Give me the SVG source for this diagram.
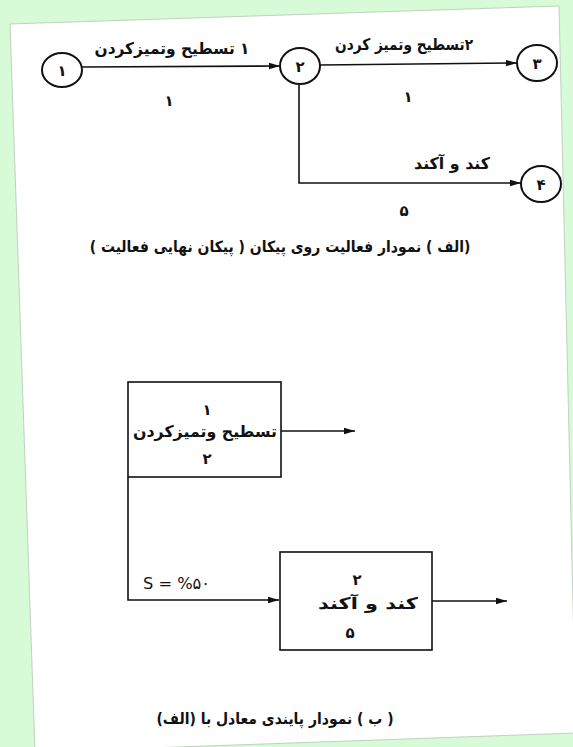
<svg xmlns="http://www.w3.org/2000/svg" width="573" height="747" viewBox="0 0 573 747">
<defs>
<marker id="ah" markerWidth="12" markerHeight="8" refX="11" refY="4" orient="auto" markerUnits="userSpaceOnUse">
<path d="M0,0.8 L11,4 L0,7.2 Z" fill="#111"/>
</marker>
<style>
.ln{fill:none;stroke:#111;stroke-width:1.6}
.nd{fill:#fff;stroke:#111;stroke-width:2}
.bx{fill:#fff;stroke:#111;stroke-width:1.6}
.fa{font-family:"DejaVu Sans",sans-serif;fill:#111;text-anchor:middle;direction:rtl;font-weight:bold}
.lb{font-size:16px}
.dg{font-size:15px}
.cap{font-family:"DejaVu Sans Condensed","DejaVu Sans",sans-serif;font-size:15.5px}
.la{font-family:"DejaVu Sans",sans-serif;fill:#111;font-size:16px}
</style>
</defs>
<rect x="0" y="0" width="573" height="747" fill="#d6fbd6"/>
<polygon points="10,24 559,6 576,733 35,752" fill="#fff" stroke="#b8c4b8" stroke-width="0.8"/>

<g id="connectors">
<line class="ln" x1="82" y1="67" x2="280" y2="66" marker-end="url(#ah)"/>
<line class="ln" x1="320" y1="65" x2="517" y2="63" marker-end="url(#ah)"/>
<polyline class="ln" points="299,85 299,183 521,183" marker-end="url(#ah)"/>
<line class="ln" x1="281" y1="431" x2="355" y2="431" marker-end="url(#ah)"/>
<polyline class="ln" points="128,477 128,600 279,600" marker-end="url(#ah)"/>
<line class="ln" x1="432" y1="601" x2="507" y2="601" marker-end="url(#ah)"/>
</g>

<g id="labels">
<text class="fa lb" x="172" y="54" textLength="155" lengthAdjust="spacingAndGlyphs">۱ تسطیح وتمیزکردن</text>
<text class="fa dg" x="169" y="106">۱</text>
<text class="fa lb" x="404" y="50" textLength="138" lengthAdjust="spacingAndGlyphs">۲تسطیح وتمیز کردن</text>
<text class="fa dg" x="408" y="102">۱</text>
<text class="fa lb" x="452" y="169" textLength="76" lengthAdjust="spacingAndGlyphs">کند و آکند</text>
<text class="fa dg" x="404" y="216">۵</text>
<text class="la" x="143" y="589" textLength="67" lengthAdjust="spacingAndGlyphs">S = %۵۰</text>
</g>

<g id="n1"><ellipse class="nd" cx="62" cy="70" rx="20" ry="17"/><text class="fa dg" x="62" y="76">۱</text></g>
<g id="n2"><ellipse class="nd" cx="300" cy="66" rx="20" ry="18"/><text class="fa dg" x="300" y="72">۲</text></g>
<g id="n3"><ellipse class="nd" cx="537" cy="63" rx="20" ry="18"/><text class="fa dg" x="537" y="69">۳</text></g>
<g id="n4"><ellipse class="nd" cx="541" cy="184" rx="20" ry="18"/><text class="fa dg" x="541" y="190">۴</text></g>

<g id="b1">
<rect class="bx" x="128" y="382" width="153" height="95"/>
<text class="fa dg" x="207" y="415">۱</text>
<text class="fa lb" x="205" y="437" textLength="144" lengthAdjust="spacingAndGlyphs">تسطیح وتمیزکردن</text>
<text class="fa dg" x="207" y="464">۲</text>
</g>
<g id="b2">
<rect class="bx" x="280" y="552" width="152" height="98"/>
<text class="fa dg" x="357" y="585">۲</text>
<text class="fa lb" x="368" y="609" textLength="100" lengthAdjust="spacingAndGlyphs">کند و آکند</text>
<text class="fa dg" x="350" y="638">۵</text>
</g>

<g id="captions">
<text class="fa cap" x="280" y="252">(الف ) نمودار فعالیت روی پیکان ( پیکان نهایی فعالیت )</text>
<text class="fa cap" x="275" y="724">( ب ) نمودار پایندی معادل با (الف)</text>
</g>
</svg>
